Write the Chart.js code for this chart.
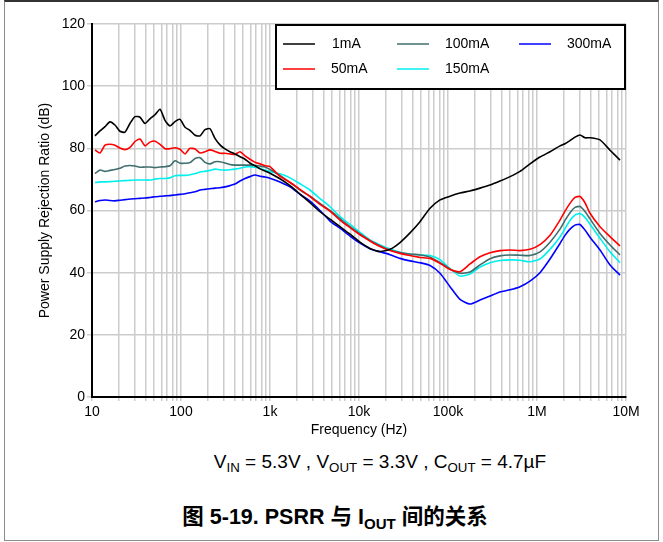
<!DOCTYPE html>
<html>
<head>
<meta charset="utf-8">
<script src="https://cdn.jsdelivr.net/npm/chart.js@4.4.1/dist/chart.umd.min.js"></script>
<style>
  body { margin: 0; background: #fff; }
  #wrap { position: relative; width: 663px; height: 542px; font-family: "Liberation Sans", Arial, sans-serif; }
  #frame { position: absolute; left: 4px; top: 0; width: 655px; height: 541px; box-sizing: border-box;
           border: 1px solid #8c8c8c; border-top: 2px solid #333; }
  #chartBox { position: absolute; left: 0; top: 0; width: 663px; height: 445px; }
  .note { position: absolute; text-align: center; color: #000; white-space: nowrap; }
  #cond { top: 451px; left: 97px; width: 566px; font-size: 19px; }
  #caption { top: 499px; left: 35px; width: 600px; font-size: 21.5px; font-weight: bold; font-family: "Liberation Sans", "Noto Sans CJK SC", sans-serif; }
  .note sub { font-size: 70%; vertical-align: -0.3em; line-height: 0; }
</style>
</head>
<body>
<div id="wrap">
  <div id="frame"></div>
  <div id="chartBox"><canvas id="psrr" width="663" height="445"></canvas></div>
  <div class="note" id="cond">V<sub>IN</sub> = 5.3V , V<sub>OUT</sub> = 3.3V , C<sub>OUT</sub> = 4.7µF</div>
  <div class="note" id="caption">图 5-19. PSRR 与 I<sub>OUT</sub> 间的关系</div>
</div>
<script>
// frequency points (Hz)
const freq = [
  10.8, 12.3, 14.0, 15.9, 18.1, 20.6, 23.5, 26.7, 30.4, 34.6,
  39.4, 44.8, 51.0, 58.1, 66.1, 75.2, 85.6, 97.5, 111, 126,
  144, 164, 186, 212, 241, 274, 312, 355, 404, 460,
  524, 596, 679, 772, 879, 1000, 1295, 1678, 2173, 2814,
  3646, 4723, 6117, 7925, 10260, 13290, 17220, 22300, 28890, 37420,
  48460, 62800, 81330, 105300, 136400, 176700, 228900, 296500, 384000, 497400,
  644200, 834400, 1080000, 1400000, 1813000, 2063000, 2348000, 2673000, 3042000, 3462000,
  3940000, 5104000, 6611000, 8563000
];

const psrr1mA = [
  84.0, 85.6, 87.0, 88.5, 87.5, 85.5, 85.2, 88.0, 90.2, 90.0,
  88.0, 89.5, 90.8, 92.6, 89.0, 87.2, 88.6, 89.3, 86.8, 85.8,
  84.2, 84.0, 86.0, 86.3, 83.2, 81.1, 79.8, 78.9, 78.2, 77.3,
  76.5, 75.2, 74.4, 73.4, 72.7, 72.0, 70.2, 68.0, 65.3, 62.5,
  59.6, 57.2, 54.8, 52.4, 49.8, 47.8, 46.8, 47.5, 49.7, 52.8,
  56.4, 60.7, 63.4, 64.6, 65.6, 66.3, 67.2, 68.2, 69.5, 70.9,
  72.6, 75.0, 77.2, 78.9, 80.8, 81.5, 82.5, 83.6, 84.3, 83.4,
  83.4, 82.7, 79.4, 76.2
];

const psrr50mA = [
  79.5, 78.5, 81.0, 81.3, 81.0, 80.1, 79.6, 80.3, 82.2, 83.0,
  80.8, 82.0, 82.3, 81.3, 79.9, 79.9, 80.2, 79.7, 78.2, 80.0,
  79.8, 78.5, 78.9, 79.5, 79.0, 78.4, 78.4, 78.2, 78.0, 78.9,
  77.6, 76.5, 75.5, 75.0, 74.4, 74.1, 71.0, 69.1, 66.8, 64.5,
  62.0, 59.8, 56.9, 54.5, 52.2, 50.2, 48.4, 47.1, 46.2, 45.5,
  44.9, 44.6, 43.0, 41.0, 40.3, 42.8, 45.1, 46.4, 47.1, 47.3,
  47.1, 47.5, 49.0, 52.0, 56.9, 59.8, 62.3, 64.2, 64.5, 62.5,
  59.1, 54.8, 51.6, 48.6
];

const psrr100mA = [
  71.9, 73.0, 72.6, 72.9, 73.2, 73.6, 74.3, 74.5, 74.3, 73.9,
  74.0, 74.0, 73.8, 74.0, 74.1, 74.4, 76.0, 75.2, 75.2, 75.4,
  76.7, 77.0, 75.5, 75.0, 75.7, 75.7, 75.3, 74.8, 74.6, 74.6,
  74.6, 74.6, 74.5, 74.3, 74.0, 73.2, 71.3, 69.0, 66.6, 64.6,
  62.3, 60.0, 57.4, 54.8, 52.5, 50.4, 48.7, 47.3, 46.5, 46.0,
  45.7, 45.0, 43.3, 41.2, 39.8, 40.2, 42.5, 44.5, 45.4, 45.7,
  45.6, 45.5, 46.7, 49.8, 54.0, 56.8, 59.3, 61.0, 61.3, 59.7,
  57.3, 52.6, 48.9, 45.7
];

const psrr150mA = [
  69.0, 69.2, 69.2, 69.3, 69.4, 69.5, 69.6, 69.7, 69.8, 69.8,
  69.8, 69.8, 70.1, 70.3, 70.3, 70.5, 71.2, 71.3, 71.3, 71.5,
  71.9, 72.4, 72.6, 72.9, 73.3, 73.1, 73.0, 73.1, 73.3, 73.6,
  74.0, 74.1, 73.9, 73.6, 73.0, 72.5, 71.8, 70.5, 68.6, 66.6,
  63.8, 61.2, 58.0, 55.5, 53.0, 50.5, 48.9, 47.6, 46.6, 45.9,
  45.7, 45.5, 44.2, 41.3, 38.9, 39.6, 41.8, 43.2, 43.9, 44.1,
  44.0, 43.5, 44.4, 47.5, 51.5, 54.2, 56.8, 58.5, 59.0, 57.8,
  55.6, 51.1, 46.7, 43.2
];

const psrr300mA = [
  62.8, 63.2, 63.4, 63.2, 63.1, 63.3, 63.5, 63.7, 63.8, 63.9,
  64.0, 64.2, 64.4, 64.6, 64.7, 64.8, 65.0, 65.2, 65.4, 65.7,
  66.0, 66.6, 66.8, 67.0, 67.2, 67.3, 67.6, 68.0, 68.5, 69.5,
  70.3, 70.9, 71.4, 71.0, 70.8, 70.4, 69.2, 67.6, 65.2, 63.0,
  60.0, 56.6, 54.3, 51.8, 49.5, 47.7, 46.7, 45.8, 44.6, 43.8,
  43.2, 42.3, 39.8, 35.5, 31.4, 29.9, 31.2, 32.5, 33.8, 34.5,
  35.5, 37.3, 40.0, 44.4, 49.4, 52.0, 54.0, 55.3, 55.5, 53.7,
  51.4, 47.3, 42.5, 39.2
];

const seriesNames = ['1mA', '50mA', '100mA', '150mA', '300mA'];
const seriesColors = ['#000000', '#ff0000', '#3f6e6e', '#00f0f0', '#0000ff'];
const seriesData = [psrr1mA, psrr50mA, psrr100mA, psrr150mA, psrr300mA];

const xDecades = [10, 100, 1000, 10000, 100000, 1000000, 10000000];
const xTickLabels = ['10', '100', '1k', '10k', '100k', '1M', '10M'];

const font = { family: '"Liberation Sans", Arial, sans-serif', size: 14 };

// legend drawn as a boxed 3-column block in the top right of the plot
const boxLegend = {
  id: 'boxLegend',
  afterDraw(chart) {
    const ctx = chart.ctx;
    ctx.save();
    ctx.fillStyle = '#fff';
    ctx.fillRect(276, 25, 349, 64);
    ctx.strokeStyle = '#000';
    ctx.lineWidth = 2;
    ctx.strokeRect(276, 25, 349, 64);
    const cols = [283, 397, 519];
    const rows = [44, 69];
    ctx.font = '14px "Liberation Sans", Arial, sans-serif';
    ctx.textBaseline = 'middle';
    chart.data.datasets.forEach((ds, i) => {
      const cx = cols[Math.floor(i / 2)];
      const cy = rows[i % 2];
      ctx.strokeStyle = ds.borderColor;
      ctx.lineWidth = 1.5;
      ctx.beginPath();
      ctx.moveTo(cx, cy);
      ctx.lineTo(cx + 32, cy);
      ctx.stroke();
      ctx.fillStyle = '#000';
      ctx.fillText(ds.label, cx + (i === 0 ? 49 : 48), cy);
    });
    ctx.restore();
  }
};

new Chart(document.getElementById('psrr'), {
  type: 'line',
  data: {
    datasets: seriesData.map((vals, i) => ({
      label: seriesNames[i],
      data: freq.map((f, j) => ({ x: f, y: vals[j] })),
      borderColor: seriesColors[i],
      borderWidth: 1.6,
      pointRadius: 0,
      tension: 0.2,
      fill: false
    }))
  },
  options: {
    responsive: false,
    animation: false,
    devicePixelRatio: 1,
    layout: { padding: { top: 24, right: 37, left: 0, bottom: 0 } },
    plugins: { legend: { display: false }, tooltip: { enabled: false } },
    scales: {
      x: {
        type: 'logarithmic',
        min: 10,
        max: 10000000,
        afterBuildTicks(scale) {
          const t = [];
          xDecades.forEach(d => {
            for (let m = 1; m <= 9; m++) {
              if (d * m <= 10000000) t.push({ value: d * m });
            }
          });
          scale.ticks = t;
        },
        afterFit(scale) { scale.height = 48; },
        ticks: {
          autoSkip: false,
          maxRotation: 0,
          color: '#000',
          font: font,
          padding: 3,
          callback(v) {
            const k = xDecades.indexOf(v);
            return k >= 0 ? xTickLabels[k] : '';
          }
        },
        grid: { color: '#cccccc', lineWidth: 1.5, tickLength: 4 },
        border: { color: '#000', width: 2 },
        title: { display: true, text: 'Frequency (Hz)', color: '#000', font: font, padding: { top: 0, bottom: 6 } }
      },
      y: {
        min: 0,
        max: 120,
        afterFit(scale) { scale.width = 92; },
        ticks: { stepSize: 20, color: '#000', font: font, padding: 2 },
        grid: { color: '#cccccc', lineWidth: 1.5, tickLength: 5 },
        border: { color: '#000', width: 2 },
        title: { display: true, text: 'Power Supply Rejection Ratio (dB)', color: '#000', font: font, padding: { top: 37, bottom: 0 } }
      }
    }
  },
  plugins: [boxLegend]
});
</script>
</body>
</html>
